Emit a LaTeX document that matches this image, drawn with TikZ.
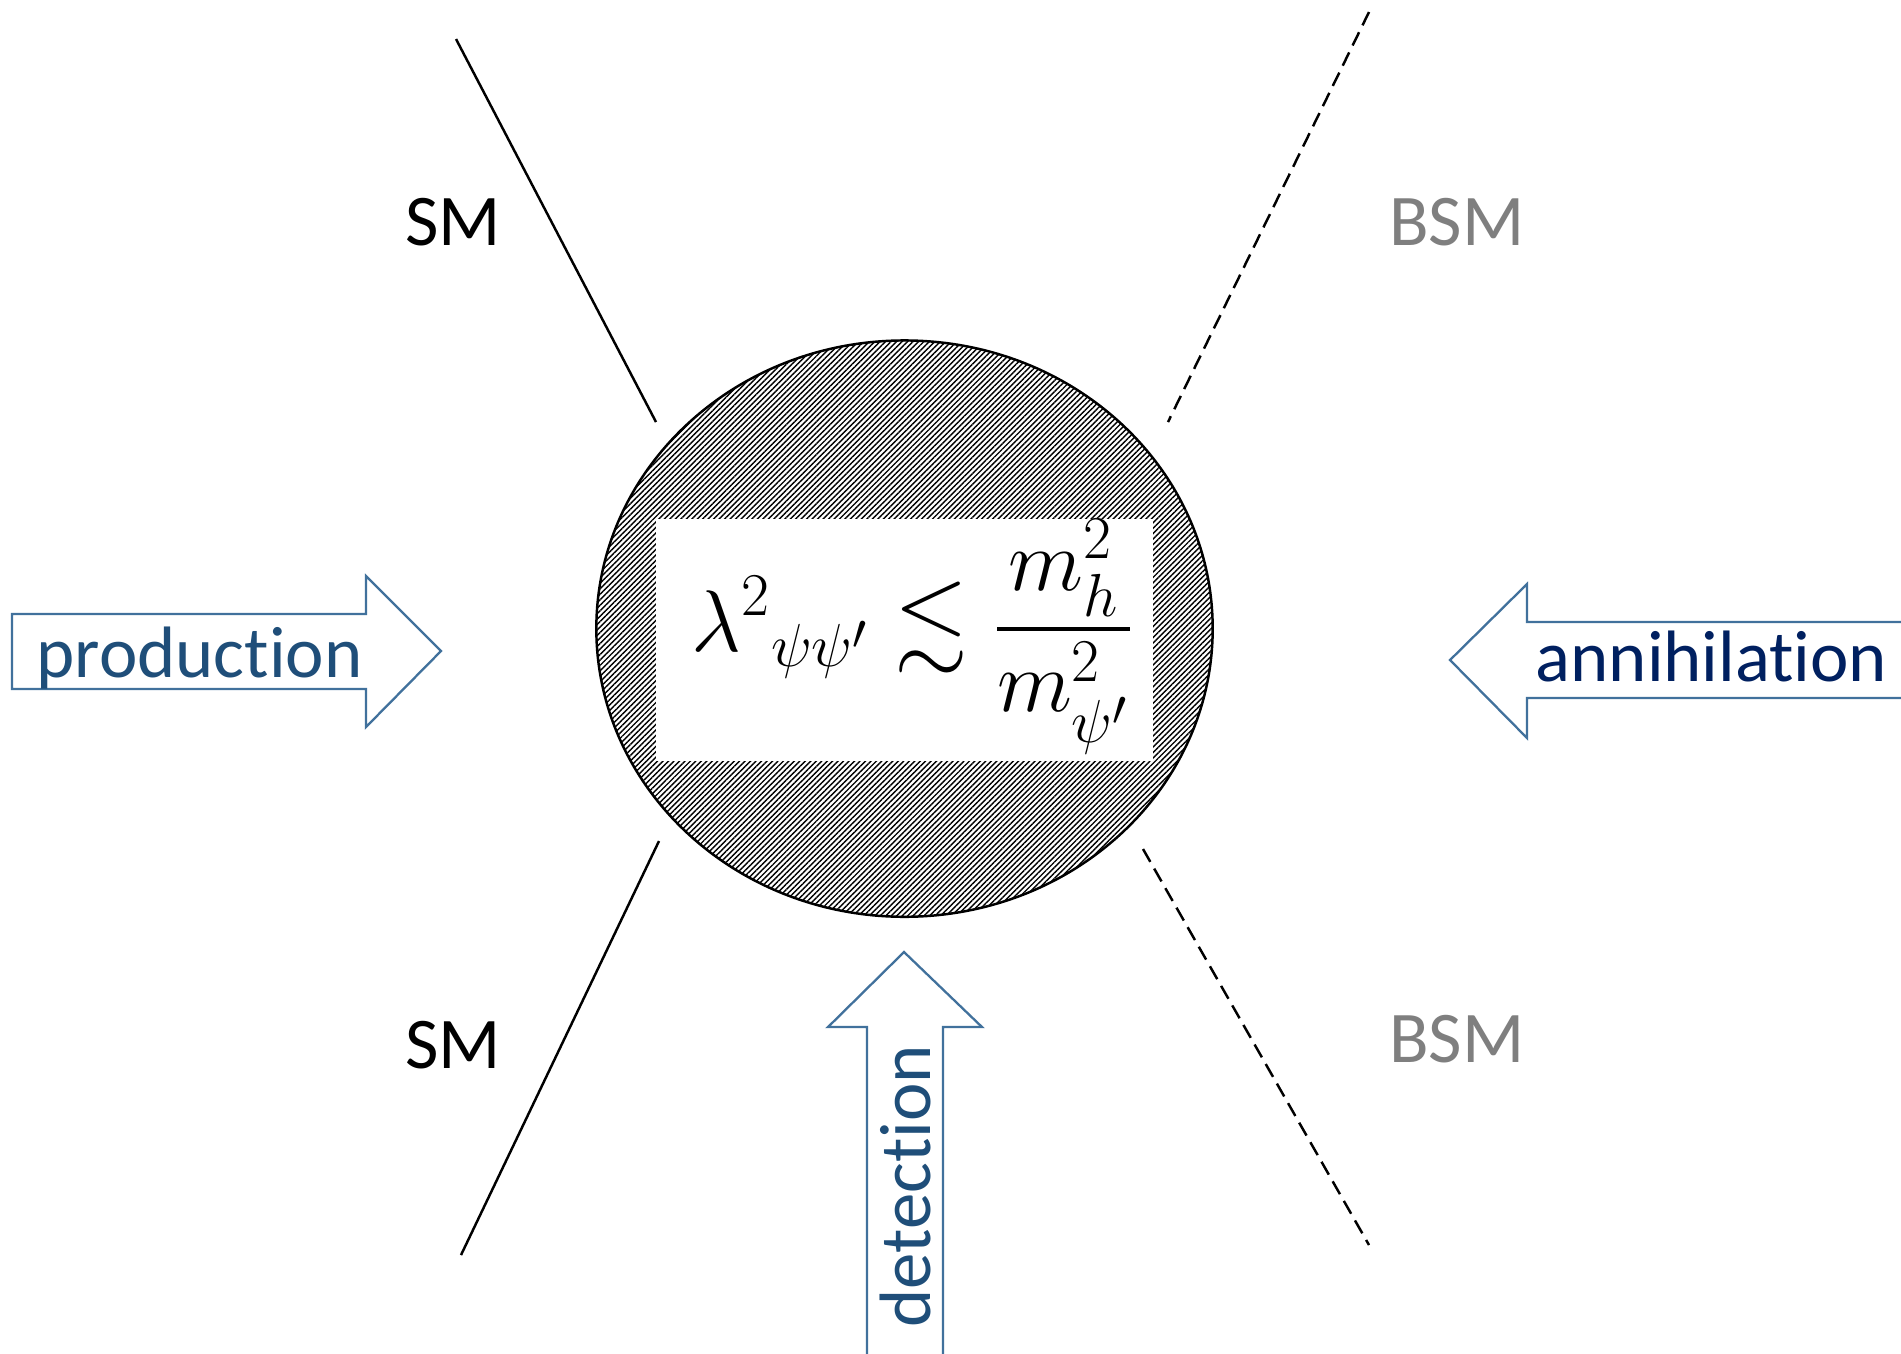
\documentclass[tikz,border=0pt]{standalone}
\usepackage{amsmath,amssymb}
\usepackage{fontspec}
\setmainfont{Carlito}[Ligatures=NoCommon]
\usetikzlibrary{shapes.geometric,patterns.meta,positioning}
\definecolor{arrowblue}{RGB}{65,113,156}
\definecolor{textblue}{RGB}{31,78,121}
\definecolor{navyblue}{RGB}{0,32,96}
\definecolor{bsmgray}{RGB}{127,127,127}
\tikzset{
  particle/.style={black, line width=0.7pt},
  bsmline/.style={particle, dash pattern=on 4.2pt off 2.2pt},
  sector/.style={font=\fontsize{20.7}{25}\selectfont, inner sep=0pt},
  blockarrow/.style={draw=arrowblue, line width=0.65pt, fill=white, line join=miter}
}

\begin{document}
\begin{tikzpicture}[x=0.01cm,y=-0.01cm]
    \useasboundingbox (0,0) rectangle (1901,1353);
    % Vertex blob
    \node[ellipse, draw, line width=0.7pt, minimum width=6.16cm, minimum height=5.76cm,
          pattern={Lines[angle=45,distance=1.1pt,line width=0.4pt]}] (blob) at (904.5,628.6) {};
    \node[fill=white, minimum width=4.97cm, minimum height=2.42cm, inner sep=0pt] (formulabox) at (904.5,640) {};
    \node[inner sep=0pt, font=\fontsize{27}{32}\selectfont] (formula) at (913,637)
        {$\displaystyle {\lambda^2}_{\psi\psi'} \lesssim \frac{m_h^2}{m_{\psi'}^2}$};
    % Legs
    \coordinate (smtopout) at (456,39);
    \coordinate (smtopin) at (656,422);
    \coordinate (smbotin) at (659,841);
    \coordinate (smbotout) at (461,1255);
    \coordinate (bsmtopout) at (1369,12);
    \coordinate (bsmtopin) at (1168,422);
    \coordinate (bsmbotin) at (1143,849);
    \coordinate (bsmbotout) at (1369,1245);
    \draw[particle] (smtopout) -- (smtopin);
    \draw[particle] (smbotin) -- (smbotout);
    \draw[bsmline] (bsmtopout) -- (bsmtopin);
    \draw[bsmline] (bsmbotin) -- (bsmbotout);
    % Labels
    \node[sector] (smtop) at (453,222) {SM};
    \node[sector] (smbot) at (453,1045) {SM};
    \node[sector, bsmgray] (bsmtop) at (1457,222) {BSM};
    \node[sector, bsmgray] (bsmbot) at (1457,1039) {BSM};
    % Production
    \draw[blockarrow] (12,614) -- (366,614) -- (366,576) -- (441,651) -- (366,727) -- (366,689) -- (12,689) -- cycle;
    \node[sector, textblue, anchor=base west] (prodtext) at (36,677) {production};
    % Annihilation
    \draw[blockarrow] (1920,622) -- (1527,622) -- (1527,584) -- (1450,660) -- (1527,738) -- (1527,698) -- (1920,698);
    \node[sector, navyblue, anchor=base west] (anntext) at (1535,681) {annihilation};
    % Detection
    \draw[blockarrow] (867,1370) -- (867,1027) -- (828,1027) -- (904,952) -- (982,1027) -- (943,1027) -- (943,1370);
    \node[sector, textblue, rotate=90, anchor=base west] (dettext) at (930,1328) {detection};
\end{tikzpicture}
\end{document}
